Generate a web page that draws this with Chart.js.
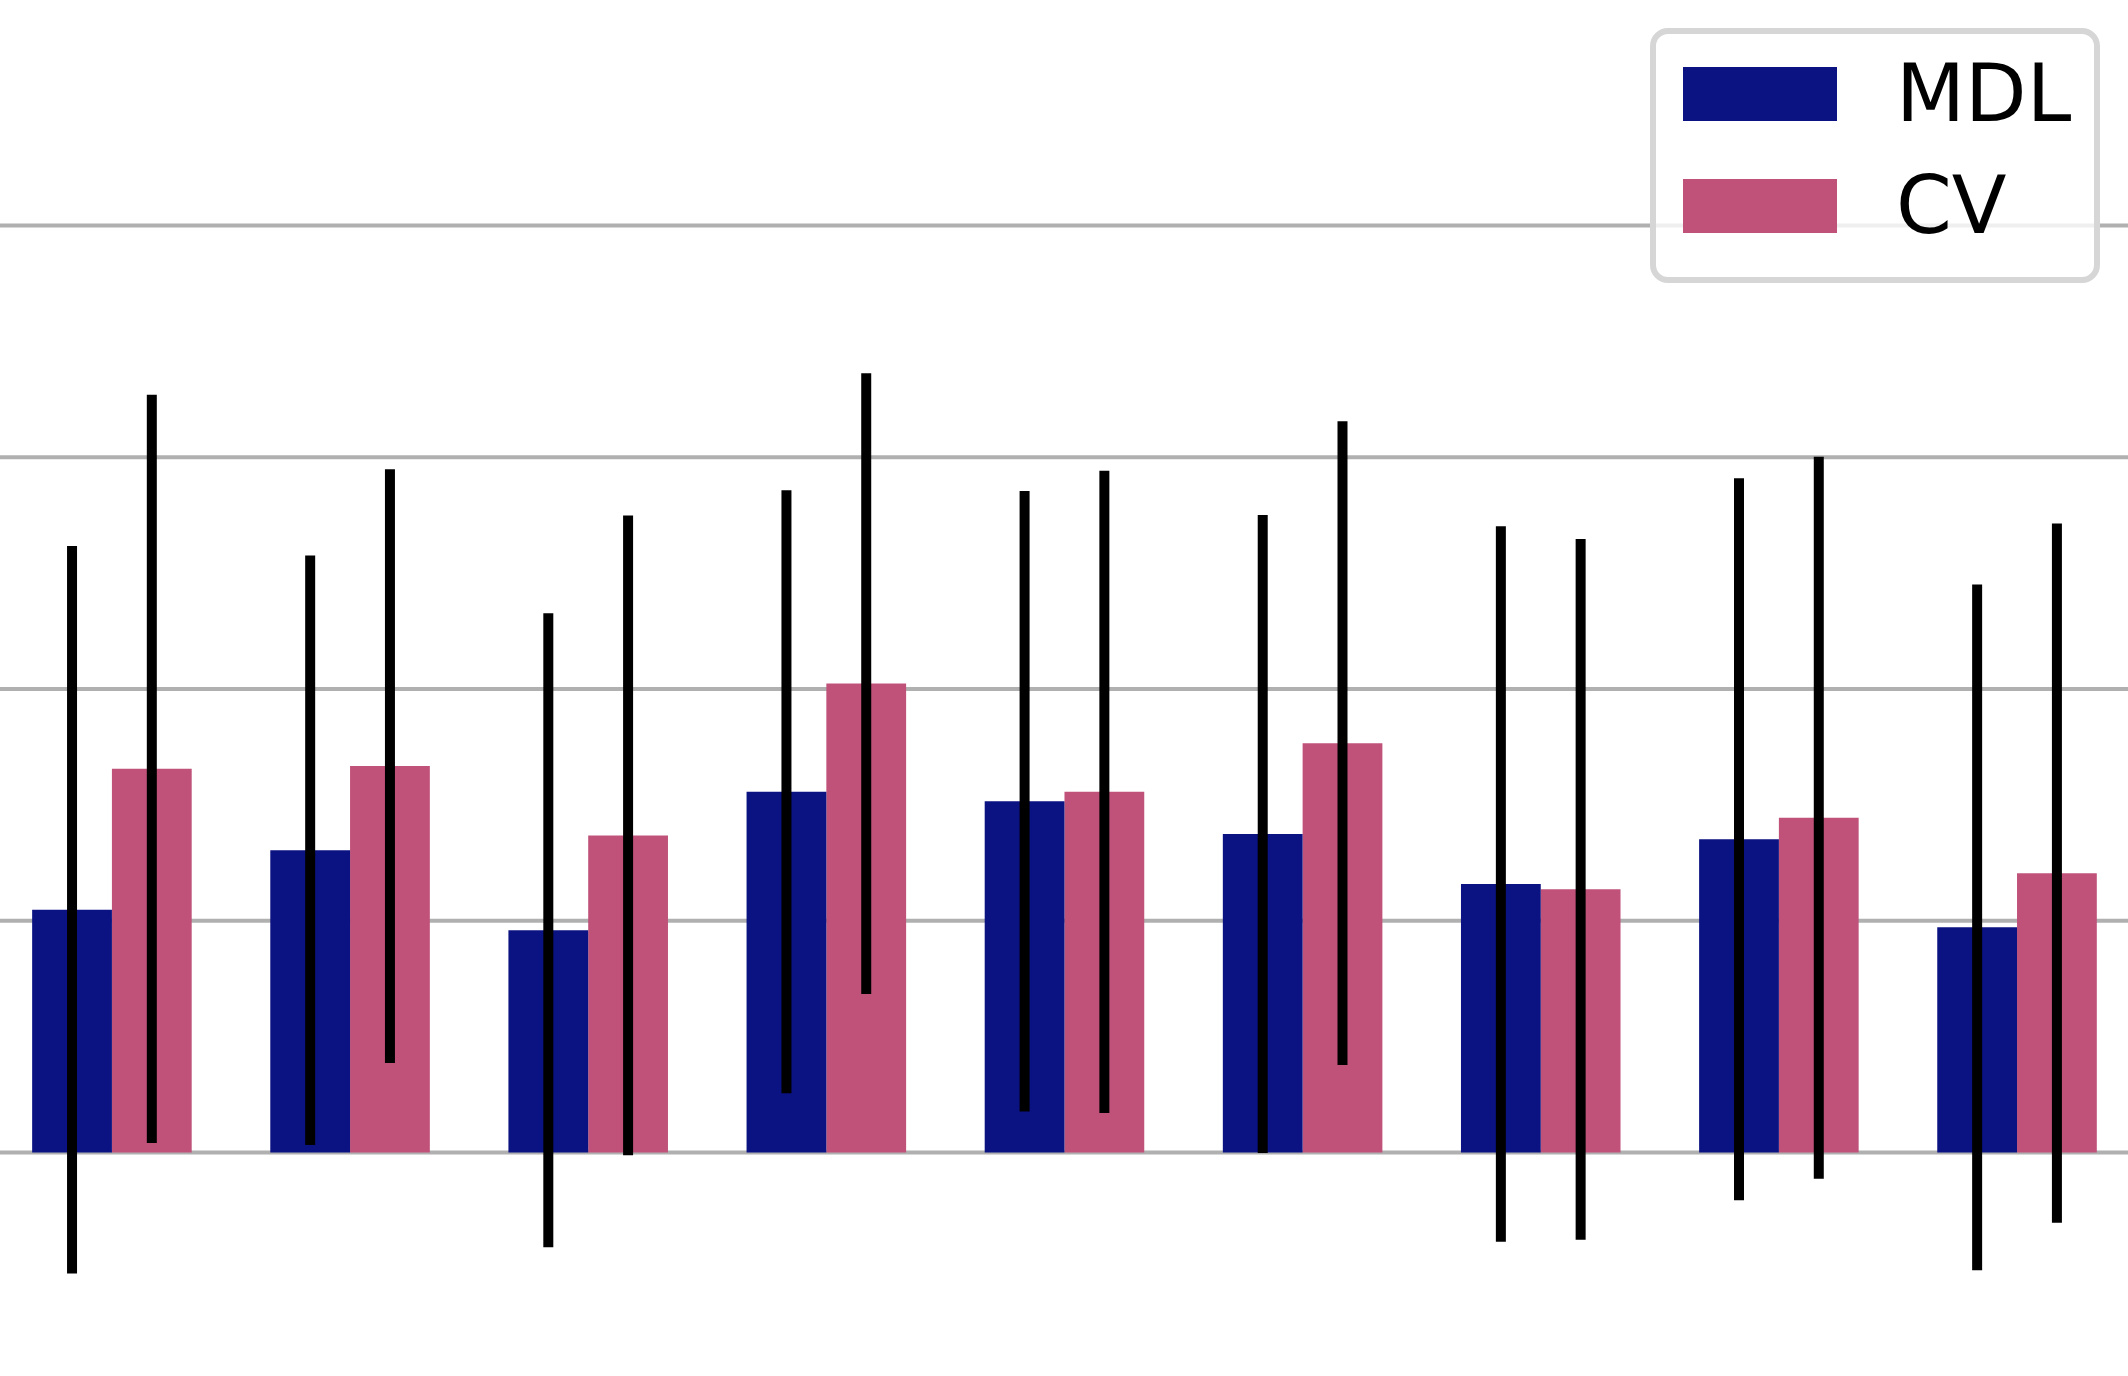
<!DOCTYPE html>
<html>
<head>
<meta charset="utf-8">
<script src="https://cdn.jsdelivr.net/npm/chart.js@4.4.1/dist/chart.umd.min.js"></script>
<style>
    html, body { margin: 0; padding: 0; background: #ffffff; }
    #wrap { position: relative; width: 2128px; height: 1376px; overflow: hidden; }
    #legend {
        position: absolute; left: 1650px; top: 28px; width: 450px; height: 255px;
        box-sizing: border-box; border: 6px solid #d6d6d6; border-radius: 18px;
        background: rgba(255, 255, 255, 0.8);
    }
    .patch { position: absolute; width: 154px; height: 54px; }
    .label {
        position: absolute; font-family: "DejaVu Sans", sans-serif; font-size: 80px;
        line-height: 80px; color: #000000; white-space: nowrap;
    }
</style>
</head>
<body>
<div id="wrap">
    <canvas id="chart" width="2128" height="1376"></canvas>
    <div id="legend"></div>
</div>
<script>
// Groupes (sans étiquettes visibles dans la figure)
const groups = [0, 1, 2, 3, 4, 5, 6, 7, 8];

// Moyennes
const mdlValues = [1.047, 1.304, 0.959, 1.556, 1.515, 1.374, 1.158, 1.351, 0.971];
const cvValues = [1.655, 1.667, 1.368, 2.023, 1.556, 1.766, 1.135, 1.444, 1.205];

// Barres d'erreur (demi-longueur)
const mdlErrors = [1.570, 1.272, 1.368, 1.301, 1.339, 1.377, 1.544, 1.558, 1.480];
const cvErrors = [1.614, 1.281, 1.380, 1.339, 1.386, 1.389, 1.512, 1.558, 1.509];

// Lignes de grille
const gridValues = [0, 1, 2, 3, 4];

const seriesNames = ['MDL', 'CV'];
const seriesColors = ['#0b1282', '#c0527a'];

function toPoints(values) {
    return values.map((v, i) => ({ x: groups[i], y: v }));
}

// Grille horizontale sous les barres
const gridPlugin = {
    id: 'gridPlugin',
    beforeDatasetsDraw(chart) {
        const ctx = chart.ctx;
        const y = chart.scales.y;
        const area = chart.chartArea;
        ctx.save();
        ctx.strokeStyle = '#b0b0b0';
        ctx.lineWidth = 4;
        gridValues.forEach(v => {
            const py = y.getPixelForValue(v);
            ctx.beginPath();
            ctx.moveTo(area.left, py);
            ctx.lineTo(area.right, py);
            ctx.stroke();
        });
        ctx.restore();
    }
};

// Barres d'erreur
const errorBarPlugin = {
    id: 'errorBarPlugin',
    afterDatasetsDraw(chart) {
        const ctx = chart.ctx;
        const y = chart.scales.y;
        ctx.save();
        ctx.strokeStyle = '#000000';
        ctx.lineWidth = 10;
        ctx.lineCap = 'butt';
        chart.data.datasets.forEach((ds, di) => {
            const meta = chart.getDatasetMeta(di);
            meta.data.forEach((bar, i) => {
                const v = ds.data[i].y;
                const e = ds.errors[i];
                ctx.beginPath();
                ctx.moveTo(bar.x, y.getPixelForValue(v + e));
                ctx.lineTo(bar.x, y.getPixelForValue(v - e));
                ctx.stroke();
            });
        });
        ctx.restore();
    }
};

const chart = new Chart(document.getElementById('chart'), {
    type: 'bar',
    data: {
        datasets: [
            { label: seriesNames[0], data: toPoints(mdlValues), errors: mdlErrors, backgroundColor: seriesColors[0] },
            { label: seriesNames[1], data: toPoints(cvValues), errors: cvErrors, backgroundColor: seriesColors[1] }
        ]
    },
    options: {
        responsive: false,
        animation: false,
        layout: { padding: 0 },
        categoryPercentage: 0.67,
        barPercentage: 1.0,
        plugins: { legend: { display: false }, tooltip: { enabled: false } },
        scales: {
            x: {
                type: 'linear', display: false, offset: false,
                min: -0.470, max: 8.466,
                ticks: { stepSize: 1, includeBounds: false }
            },
            y: { display: false, min: -0.965, max: 4.973 }
        }
    },
    plugins: [gridPlugin, errorBarPlugin]
});

// Légende en HTML
const legendEl = document.getElementById('legend');
seriesNames.forEach((name, i) => {
    const patch = document.createElement('div');
    patch.className = 'patch';
    patch.style.left = '27px';
    patch.style.top = (33 + i * 112) + 'px';
    patch.style.background = seriesColors[i];
    legendEl.appendChild(patch);

    const label = document.createElement('div');
    label.className = 'label';
    label.style.left = '240px';
    label.style.top = (20 + i * 112) + 'px';
    label.textContent = name;
    legendEl.appendChild(label);
});
</script>
</body>
</html>
